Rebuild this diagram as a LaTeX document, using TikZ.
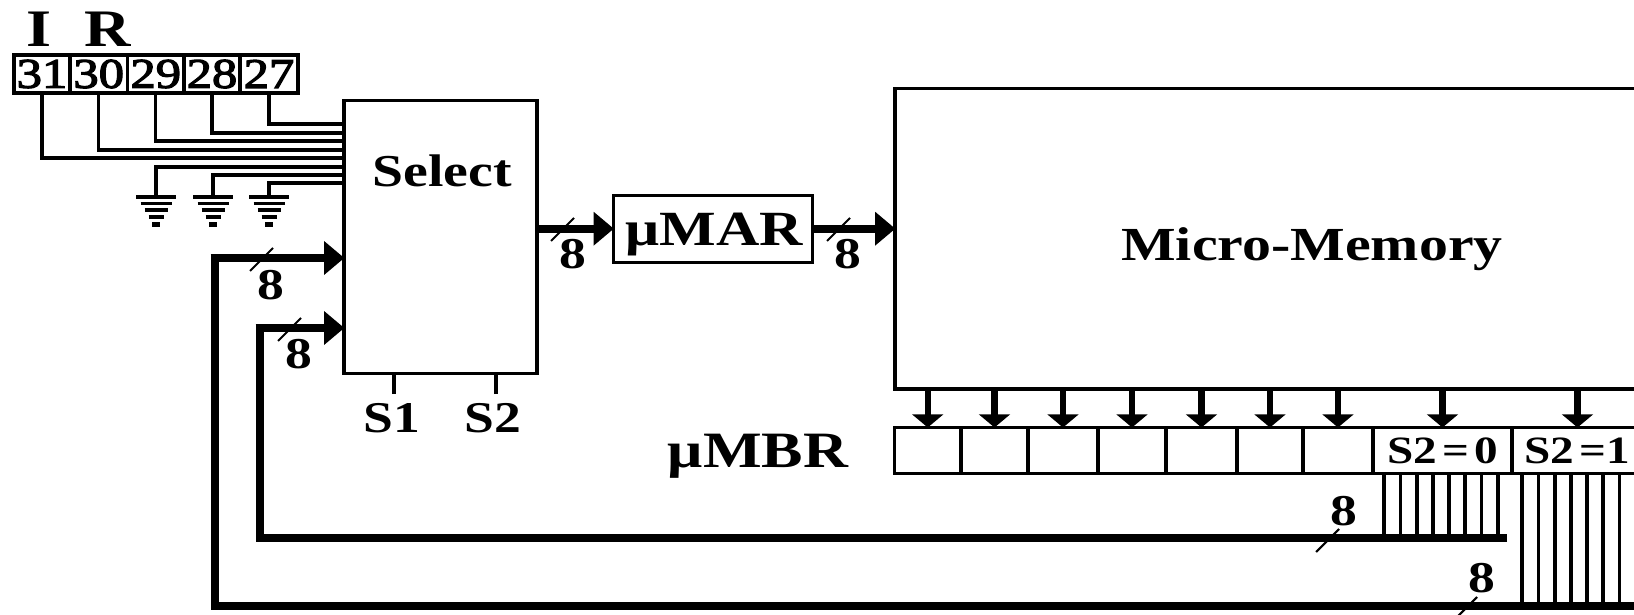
\documentclass[tikz,border=0pt]{standalone}
\usepackage{fontspec}
\setmainfont[FakeStretch=1.22]{Liberation Serif}
\newfontfamily\bitfam[FakeStretch=1.2,FakeBold=3]{Liberation Serif}
\usetikzlibrary{calc, positioning, arrows.meta}
\def\pxu{0.02cm}
\tikzset{
  regbox/.style={draw, line width=1.9pt, inner sep=0pt, outer sep=0pt},
  wire/.style={line width=1.9pt},
  bus/.style={line width=4.6pt, -{Triangle[length=11.5pt,width=18.5pt]}, shorten >=-0.2pt},
  busflat/.style={line width=4.6pt},
  memarrow/.style={line width=3.5pt, -{Triangle[length=7.5pt,width=17.5pt]}},
  slashmark/.style={line width=1.2pt},
  stub/.style={line width=2.1pt},
  bitfont/.style={font=\fontsize{24}{24}\bitfam},
  fieldfont/.style={font=\fontsize{22}{22}\selectfont\bfseries},
  boldtext/.style={anchor=base, inner sep=0pt, font=\fontsize{#1}{#1}\selectfont\bfseries},
  boldtext/.default=25
}
\begin{document}
\begin{tikzpicture}[x=0.02cm, y=-0.02cm]
  \path[use as bounding box, clip] (0,0) rectangle (1634,615);
  % IR register
  \node[boldtext=30] (irI) at (39,46.5) {I};
  \node[boldtext=30] (irR) at (108,46.5) {R};
  \foreach \bit/\xa/\xb in {31/14/70, 30/70/127.5, 29/127.5/184, 28/184/240, 27/240/298}
    \node[regbox, bitfont, minimum width={(\xb-\xa)*\pxu}, minimum height=38*\pxu]
      (cell\bit) at ({(\xa+\xb)/2},74) {\bit};
  % main blocks
  \node[regbox, minimum width=193*\pxu, minimum height=273.5*\pxu] (select) at (440.5,237) {};
  \node[boldtext=26] (selectlabel) at (442,186.5) {Select};
  \node[regbox, minimum width=199*\pxu, minimum height=67*\pxu] (mar) at (713,228.7) {};
  \node[boldtext=28] (marlabel) at (714.5,245) {μMAR};
  \node[regbox, minimum width=832*\pxu, minimum height=300.5*\pxu] (memory) at (1311,238.75) {};
  \node[boldtext=27] (memorylabel) at (1312,260) {Micro-Memory};
  \node[boldtext=29] (mbrlabel) at (758,467) {μMBR};
  % micro memory buffer cells
  \foreach \i/\xa/\xb/\txt in {1/894.5/961/{}, 2/961/1028/{}, 3/1028/1098/{}, 4/1098/1166/{},
      5/1166/1237/{}, 6/1237/1303/{}, 7/1303/1373/{},
      8/1373/1512/{S2\kern3pt=\kern3pt0}, 9/1512/1643/{S2\kern3pt=1}}{
    \node[regbox, fieldfont, minimum width={(\xb-\xa)*\pxu}, minimum height=46*\pxu]
      (mbr\i) at ({(\xa+\xb)/2},450.5) {\txt};
    \draw[memarrow] (memory.south -| mbr\i.north) -- (mbr\i.north);
  }
  % select inputs
  \foreach \bit/\wy in {27/124, 28/133, 29/141, 30/150, 31/158}
    \draw[wire] (cell\bit.south) |- (select.west |- 0,\wy);
  \foreach \gnd/\gx/\wy in {1/156/167, 2/213/175, 3/269/183}{
    \coordinate (gnd\gnd) at (\gx,197);
    \draw[wire] (select.west |- 0,\wy) -| (gnd\gnd);
    \foreach \dy/\hw in {0/20, 6.5/15.5, 13/11.5, 20/7.5}
      \draw[wire] ($(gnd\gnd)+(-\hw,\dy)$) -- ($(gnd\gnd)+(\hw,\dy)$);
    \fill ($(gnd\gnd)+(-4,25)$) rectangle ($(gnd\gnd)+(4,30)$);
  }
  % buses
  \draw[bus] (select.east |- mar.west) -- (mar.west);
  \draw[bus] (mar.east) -- (memory.west |- mar.east);
  \coordinate (lowend) at (1507,538);
  \coordinate (lowturn) at (260,328);
  \coordinate (highend) at (1700,606);
  \coordinate (highturn) at (215,258);
  \draw[busflat] (lowend) -| (lowturn);
  \draw[bus] ($(lowturn)+(-4.5,0)$) -- (select.west |- lowturn);
  \draw[busflat] (highend) -| (highturn);
  \draw[bus] ($(highturn)+(-4.5,0)$) -- (select.west |- highturn);
  % S2=0 and S2=1 taps
  \foreach \k in {0,...,7}
    \draw[stub] ({1384.3+16.2*\k},474) -- ({1384.3+16.2*\k},538);
  \foreach \k in {0,...,7}
    \draw[stub] ({1522.3+16.2*\k},474) -- ({1522.3+16.2*\k},606);
  % width marks
  \foreach \sx/\sy in {574/218, 850/218, 273/248, 301/318, 1339/529, 1477/597}
    \draw[slashmark] (\sx,\sy) -- ++(-23,23);
  \node[boldtext] (widthA) at (573,268) {8};
  \node[boldtext] (widthB) at (848,268) {8};
  \node[boldtext] (widthC) at (271,299) {8};
  \node[boldtext] (widthD) at (299,368) {8};
  \node[boldtext] (widthE) at (1344,525) {8};
  \node[boldtext] (widthF) at (1482,592) {8};
  % select lines
  \coordinate (stubA) at (394,394);
  \coordinate (stubB) at (496,394);
  \draw[stub] (stubA) -- (select.south -| stubA);
  \draw[stub] (stubB) -- (select.south -| stubB);
  \node[boldtext] (selA) at (392,432) {S1};
  \node[boldtext] (selB) at (493,432) {S2};
\end{tikzpicture}
\end{document}
